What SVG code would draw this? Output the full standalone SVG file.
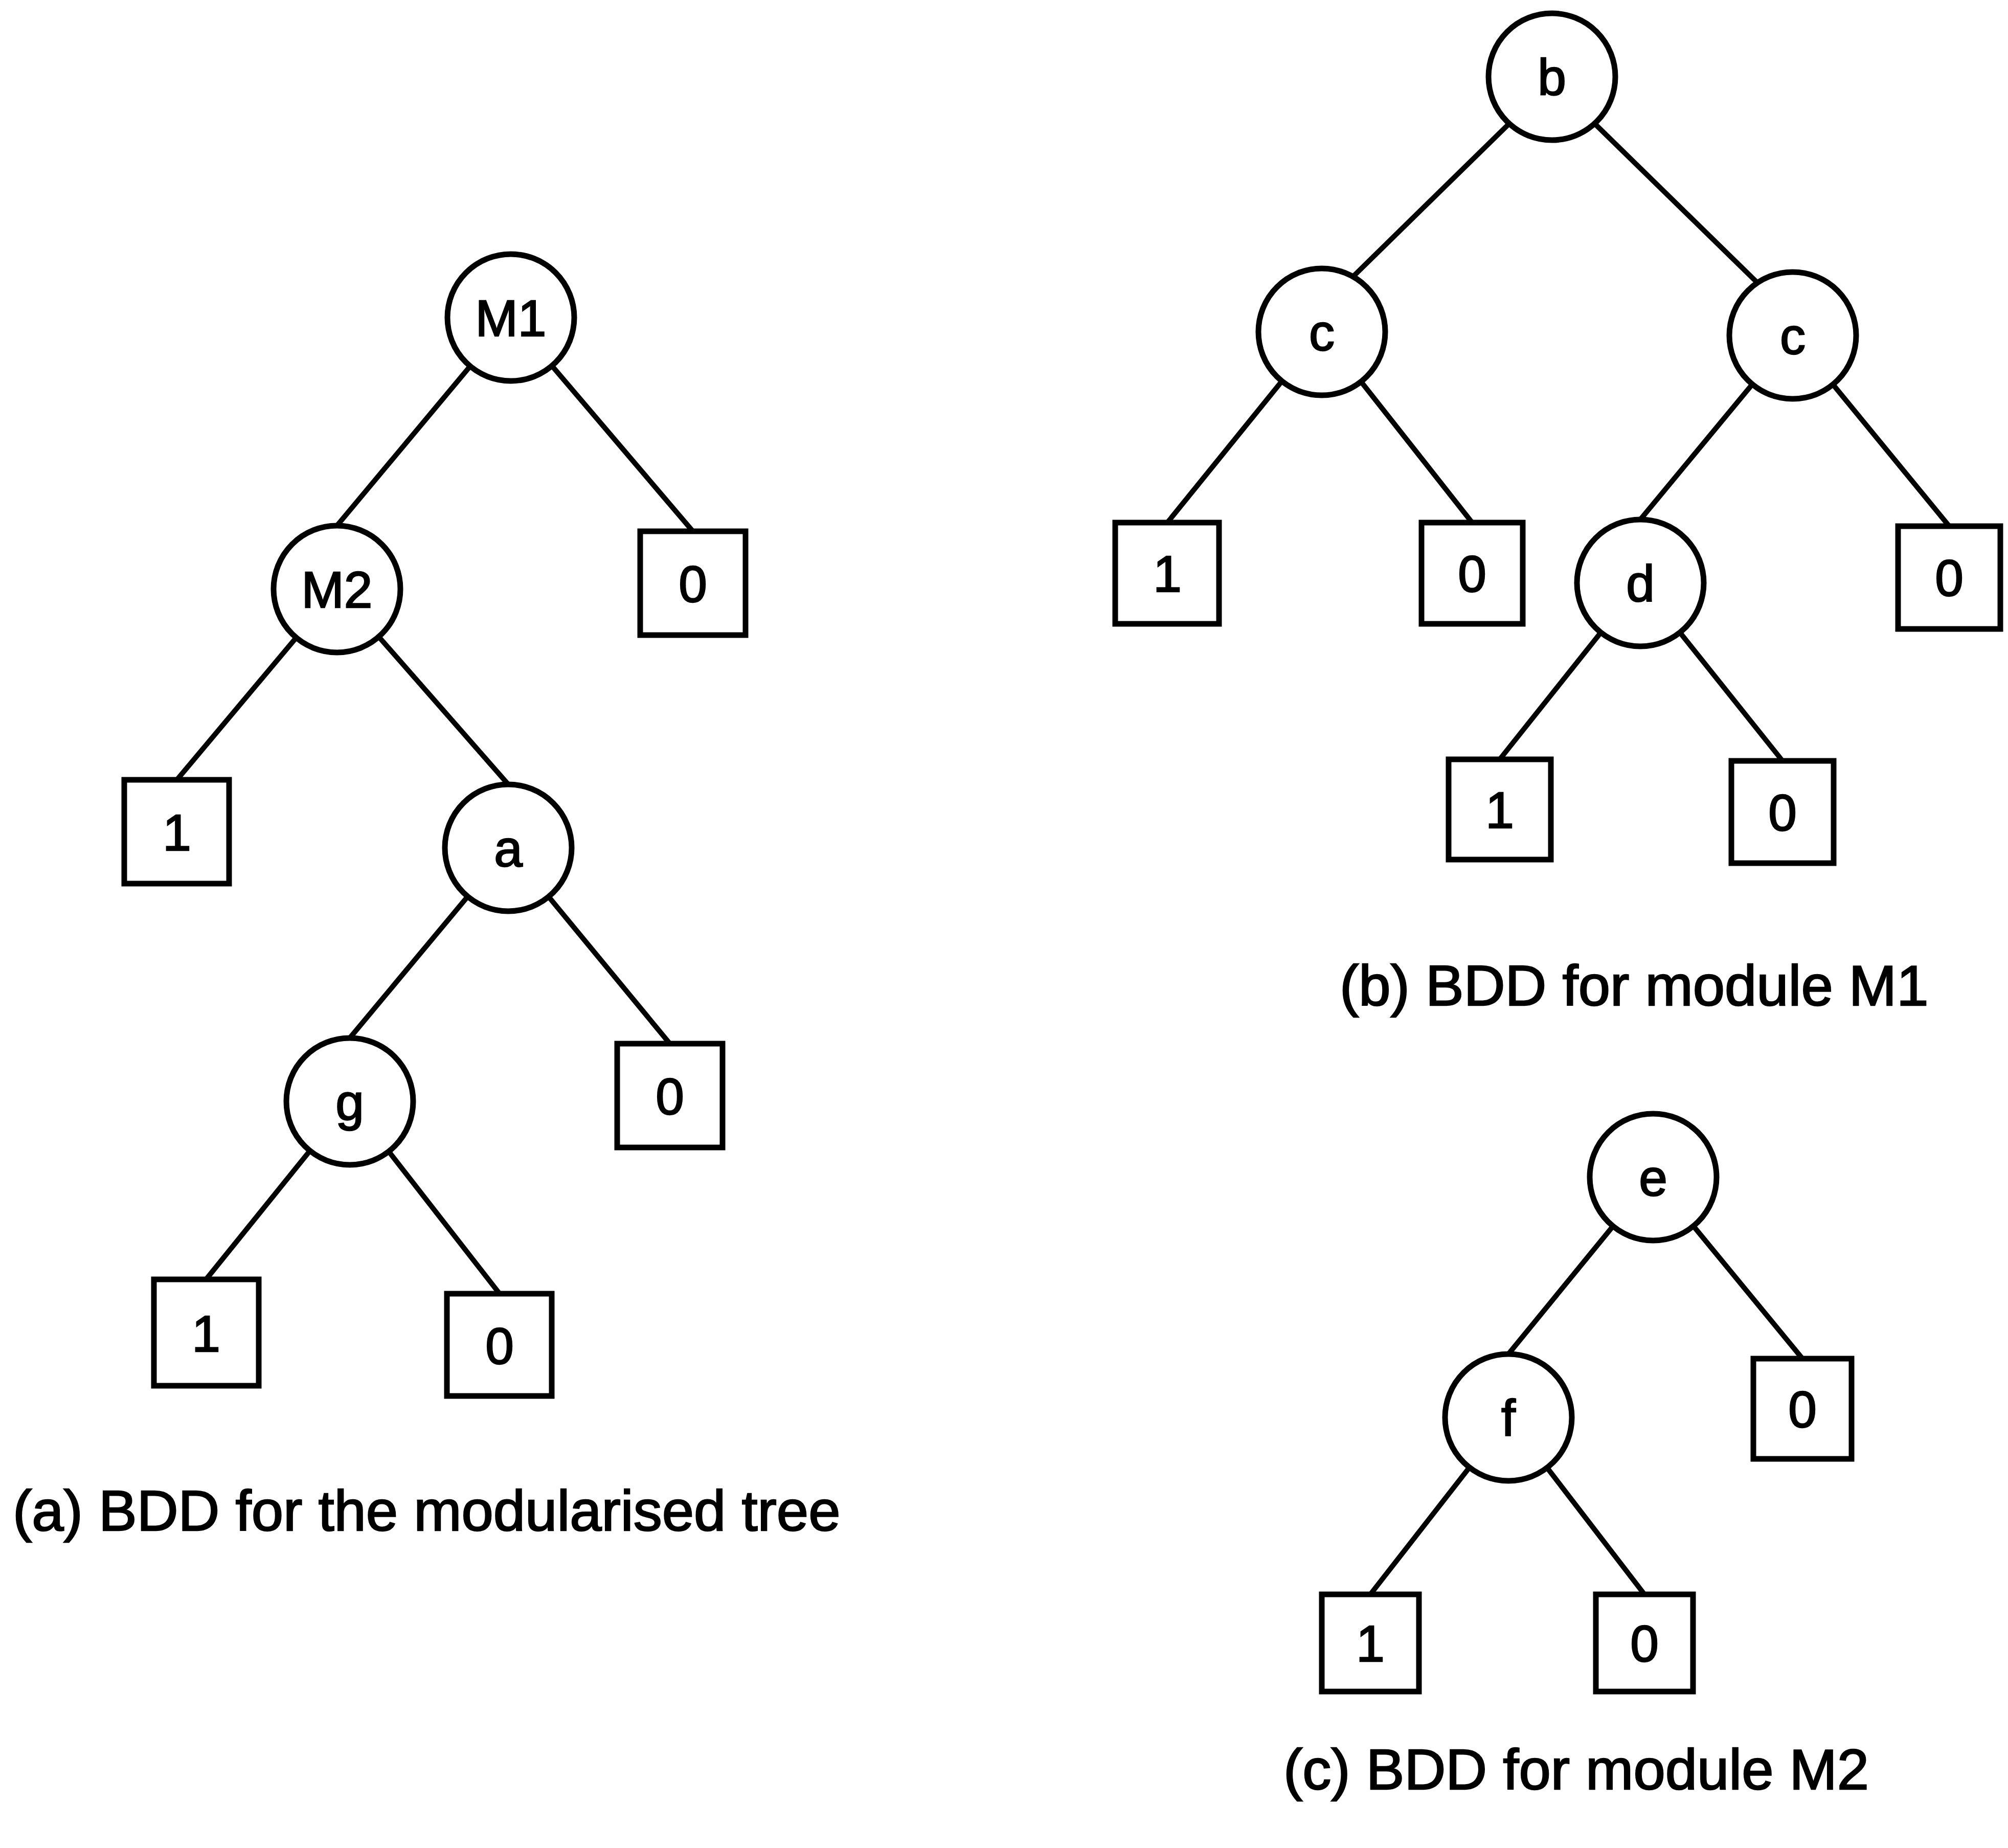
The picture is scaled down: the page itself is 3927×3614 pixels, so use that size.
<svg xmlns="http://www.w3.org/2000/svg" width="3927" height="3614" viewBox="0 0 3927 3614">
<style>
.n{fill:#fff;stroke:#000;stroke-width:11}
.e line{stroke:#000;stroke-width:10}
.l{font-family:"Liberation Sans",Arial,sans-serif;font-size:100px;text-anchor:middle;fill:#000;stroke:#000;stroke-width:2.5}
.cap{font-family:"Liberation Sans",Arial,sans-serif;font-size:112px;fill:#000;stroke:#000;stroke-width:2.5}
</style>
<rect width="3927" height="3614" fill="#fff"/>
<g id="connectors" class="e">
<line x1="999" y1="621" x2="659" y2="1028"/>
<line x1="999" y1="621" x2="1355" y2="1039"/>
<line x1="659" y1="1152" x2="346" y2="1525"/>
<line x1="659" y1="1152" x2="994" y2="1534"/>
<line x1="994" y1="1658" x2="684" y2="2030"/>
<line x1="994" y1="1658" x2="1310" y2="2041"/>
<line x1="684" y1="2154" x2="403" y2="2502"/>
<line x1="684" y1="2154" x2="977" y2="2530"/>
<line x1="3035" y1="160" x2="2645" y2="542"/>
<line x1="3035" y1="160" x2="3437" y2="553"/>
<line x1="2585" y1="649" x2="2283" y2="1022"/>
<line x1="2585" y1="649" x2="2879" y2="1022"/>
<line x1="3506" y1="656" x2="3208" y2="1016"/>
<line x1="3506" y1="656" x2="3812" y2="1029"/>
<line x1="3208" y1="1140" x2="2933" y2="1485"/>
<line x1="3208" y1="1140" x2="3486" y2="1488"/>
<line x1="3233" y1="2302" x2="2950" y2="2648"/>
<line x1="3233" y1="2302" x2="3525" y2="2657"/>
<line x1="2950" y1="2772" x2="2680" y2="3118"/>
<line x1="2950" y1="2772" x2="3216" y2="3118"/>
</g>
<g id="a_M1"><circle class="n" cx="999" cy="621" r="124"/><text class="l" x="999" y="657">M1</text></g>
<g id="a_M2"><circle class="n" cx="659" cy="1152" r="124"/><text class="l" x="659" y="1188">M2</text></g>
<g id="a_M1_0"><rect class="n" x="1252" y="1039" width="206" height="203"/><text class="l" x="1355" y="1177">0</text></g>
<g id="a_M2_1"><rect class="n" x="243" y="1525" width="205" height="203"/><text class="l" x="346" y="1663">1</text></g>
<g id="a_a"><circle class="n" cx="994" cy="1658" r="124"/><text class="l" x="994" y="1694">a</text></g>
<g id="a_a_0"><rect class="n" x="1207" y="2041" width="206" height="203"/><text class="l" x="1310" y="2179">0</text></g>
<g id="a_g"><circle class="n" cx="684" cy="2154" r="124"/><text class="l" x="684" y="2190">g</text></g>
<g id="a_g_1"><rect class="n" x="301" y="2502" width="205" height="208"/><text class="l" x="403" y="2643">1</text></g>
<g id="a_g_0"><rect class="n" x="874" y="2530" width="205" height="200"/><text class="l" x="977" y="2667">0</text></g>
<text class="cap" x="25" y="2993">(a) BDD for the modularised tree</text>

<g id="b_b"><circle class="n" cx="3035" cy="150" r="124"/><text class="l" x="3035" y="186">b</text></g>
<g id="b_c1"><circle class="n" cx="2585" cy="649" r="124"/><text class="l" x="2585" y="685">c</text></g>
<g id="b_c2"><circle class="n" cx="3506" cy="656" r="124"/><text class="l" x="3506" y="692">c</text></g>
<g id="b_c1_1"><rect class="n" x="2181" y="1022" width="203" height="198"/><text class="l" x="2283" y="1157">1</text></g>
<g id="b_c1_0"><rect class="n" x="2780" y="1022" width="198" height="198"/><text class="l" x="2879" y="1157">0</text></g>
<g id="b_d"><circle class="n" cx="3208" cy="1140" r="124"/><text class="l" x="3208" y="1176">d</text></g>
<g id="b_c2_0"><rect class="n" x="3712" y="1029" width="200" height="201"/><text class="l" x="3812" y="1165">0</text></g>
<g id="b_d_1"><rect class="n" x="2833" y="1485" width="200" height="196"/><text class="l" x="2933" y="1619">1</text></g>
<g id="b_d_0"><rect class="n" x="3386" y="1488" width="200" height="200"/><text class="l" x="3486" y="1624">0</text></g>
<text class="cap" x="2620" y="1966">(b) BDD for module M1</text>

<g id="c_e"><circle class="n" cx="3233" cy="2302" r="124"/><text class="l" x="3233" y="2338">e</text></g>
<g id="c_f"><circle class="n" cx="2950" cy="2772" r="124"/><text class="l" x="2950" y="2808">f</text></g>
<g id="c_e_0"><rect class="n" x="3429" y="2657" width="192" height="196"/><text class="l" x="3525" y="2791">0</text></g>
<g id="c_f_1"><rect class="n" x="2585" y="3118" width="190" height="190"/><text class="l" x="2680" y="3249">1</text></g>
<g id="c_f_0"><rect class="n" x="3121" y="3118" width="190" height="190"/><text class="l" x="3216" y="3249">0</text></g>
<text class="cap" x="2510" y="3499">(c) BDD for module M2</text>
</svg>
